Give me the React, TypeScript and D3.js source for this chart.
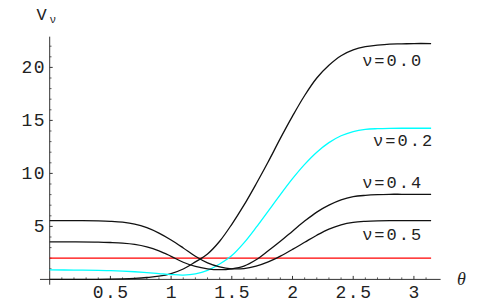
import * as d3 from "d3"

// sample angles (radians) and potential values
const theta = [0, 0.2, 0.4, 0.5, 0.6, 0.7, 0.8, 0.9, 1.0, 1.1, 1.2, 1.3, 1.4, 1.5, 1.6, 1.7, 1.8, 1.9, 2.0, 2.1, 2.2, 2.3, 2.4, 2.5, 2.6, 2.7, 2.8, 2.9, 3.0, 3.1416]
const vNu00 = [0, 0, 0, 0.02, 0.05, 0.1, 0.18, 0.3, 0.55, 0.98, 1.65, 2.4, 3.6, 5.2, 7.0, 9.0, 11.1, 13.3, 15.4, 17.35, 19.0, 20.2, 21.1, 21.65, 21.95, 22.1, 22.2, 22.22, 22.25, 22.25]
const vNu02 = [0.89, 0.88, 0.85, 0.82, 0.78, 0.72, 0.64, 0.55, 0.46, 0.41, 0.52, 0.85, 1.45, 2.25, 3.45, 4.9, 6.45, 8.0, 9.5, 10.85, 12.0, 12.9, 13.55, 13.95, 14.15, 14.22, 14.25, 14.26, 14.26, 14.26]
const vNu04 = [3.54, 3.54, 3.52, 3.48, 3.42, 3.3, 3.07, 2.7, 2.18, 1.62, 1.22, 1.0, 0.92, 1.0, 1.25, 1.85, 2.7, 3.6, 4.55, 5.5, 6.35, 7.0, 7.5, 7.8, 7.93, 8.0, 8.03, 8.03, 8.03, 8.03]
const vNu05 = [5.55, 5.55, 5.52, 5.48, 5.4, 5.22, 4.88, 4.37, 3.72, 2.97, 2.18, 1.56, 1.18, 1.0, 1.02, 1.25, 1.65, 2.2, 2.83, 3.5, 4.17, 4.75, 5.15, 5.38, 5.48, 5.53, 5.55, 5.55, 5.55, 5.55]
const redLevel = 2.0

const seriesNames = ["ν=0.0", "ν=0.2", "ν=0.4", "ν=0.5"]
const seriesValues = [vNu00, vNu02, vNu04, vNu05]
const seriesColors = ["#111", "#00ffff", "#111", "#111"]
// where each curve label sits (end of text), in data units
const labelTheta = [3.06, 3.15, 3.06, 3.06]
const labelV = [20.1, 12.55, 8.6, 3.72]

const xTickValues = [0.5, 1, 1.5, 2, 2.5, 3]
const xTickLabels = ["0.5", "1", "1.5", "2", "2.5", "3"]
const yTickValues = [5, 10, 15, 20]
const yTickLabels = ["5", "10", "15", "20"]

const W = 491
const H = 304
const mono = "'Liberation Mono', 'DejaVu Sans Mono', monospace"

export default function App() {
  const x = d3.scaleLinear().domain([0, Math.PI]).range([49.7, 431.1])
  const y = d3.scaleLinear().domain([0, 20]).range([279.4, 67.4])

  const line = d3
    .line<[number, number]>()
    .x((d) => x(d[0]))
    .y((d) => y(d[1]))
    .curve(d3.curveCatmullRom.alpha(0.5))

  const xMinor = d3.range(1, 32).map((i) => i / 10).filter((v) => Math.abs(v * 2 - Math.round(v * 2)) > 1e-6)
  const yMinor = d3.range(1, 23).filter((v) => v % 5 !== 0)

  const axisColor = "#333"

  return (
    <svg width={W} height={H} style={{ position: "absolute", left: 0, top: 0, background: "#fff" }}>
      {/* axes */}
      <line x1={x(-0.08)} x2={x(3.22)} y1={y(0)} y2={y(0)} stroke={axisColor} strokeWidth={1} />
      <line x1={x(0)} x2={x(0)} y1={y(-0.5)} y2={y(22.9)} stroke={axisColor} strokeWidth={1} />

      {xMinor.map((v) => (
        <line key={"xm" + v} x1={x(v)} x2={x(v)} y1={y(0)} y2={y(0) - 2} stroke={axisColor} strokeWidth={0.8} />
      ))}
      {xTickValues.map((v) => (
        <line key={"xt" + v} x1={x(v)} x2={x(v)} y1={y(0)} y2={y(0) - 3.5} stroke={axisColor} strokeWidth={1} />
      ))}
      {yMinor.map((v) => (
        <line key={"ym" + v} x1={x(0)} x2={x(0) + 1.8} y1={y(v)} y2={y(v)} stroke={axisColor} strokeWidth={0.8} />
      ))}
      {yTickValues.map((v) => (
        <line key={"yt" + v} x1={x(0)} x2={x(0) + 3} y1={y(v)} y2={y(v)} stroke={axisColor} strokeWidth={1} />
      ))}

      {xTickValues.map((v, i) => (
        <text key={"xl" + v} x={x(v) + 0.8} y={297.5} textAnchor="middle" fontFamily={mono} fontSize={18} letterSpacing={1.5} fill="#222">
          {xTickLabels[i]}
        </text>
      ))}
      {yTickValues.map((v, i) => (
        <text key={"yl" + v} x={46} y={y(v) + 6} textAnchor="end" fontFamily={mono} fontSize={18} letterSpacing={1.5} fill="#222">
          {yTickLabels[i]}
        </text>
      ))}

      {/* axis titles */}
      <text x={36.5} y={20} fontFamily={mono} fontSize={17} fill="#222">V</text>
      <text x={49.5} y={23} fontFamily={mono} fontSize={11} fill="#222">ν</text>
      <text x={461.5} y={285} textAnchor="middle" fontFamily="'Liberation Serif', serif" fontStyle="italic" fontSize={18} fill="#222">θ</text>

      {/* reference level */}
      <line x1={x(0)} x2={x(Math.PI)} y1={y(redLevel)} y2={y(redLevel)} stroke="#ff0000" strokeWidth={1.3} />

      {/* curves */}
      {seriesValues.map((vals, i) => (
        <path
          key={seriesNames[i]}
          d={line(theta.map((t, j) => [t, vals[j]] as [number, number])) || ""}
          fill="none"
          stroke={seriesColors[i]}
          strokeWidth={1.3}
        />
      ))}

      {seriesNames.map((name, i) => (
        <text key={"lab" + name} x={x(labelTheta[i]) + 2} y={y(labelV[i])} textAnchor="end" fontFamily={mono} fontSize={17} letterSpacing={2} fill="#222">
          {name}
        </text>
      ))}
    </svg>
  )
}
